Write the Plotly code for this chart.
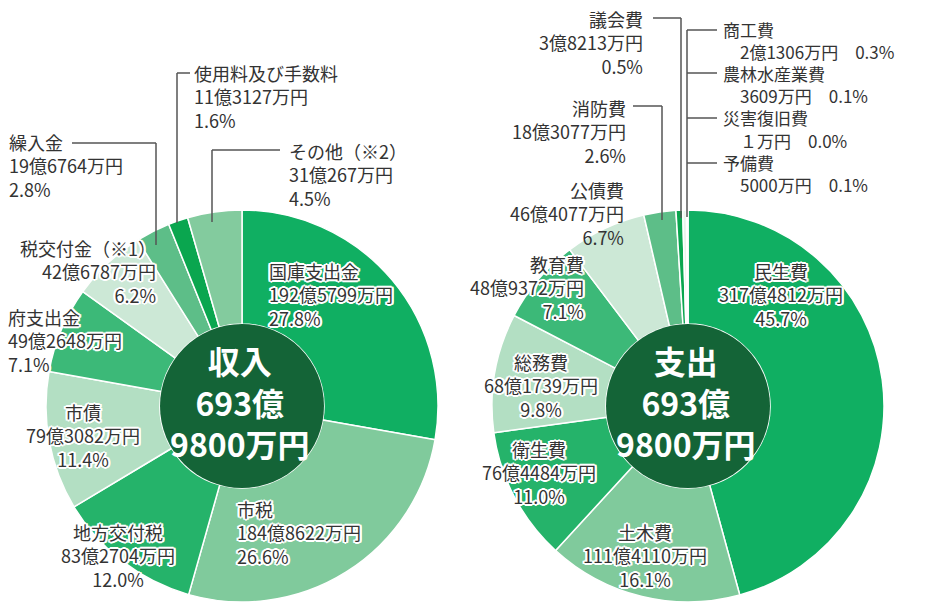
import plotly.graph_objects as go

W, H = 938, 602

# ---------------- data ----------------
rev_labels = ["国庫支出金", "市税", "地方交付税", "市債", "府支出金",
              "税交付金（※1）", "繰入金", "使用料及び手数料", "その他（※2）"]
rev_values = [1925799, 1848622, 832704, 793082, 492648, 426787, 196764, 113127, 310267]  # 万円
rev_amounts = ["192億5799万円", "184億8622万円", "83億2704万円", "79億3082万円", "49億2648万円",
               "42億6787万円", "19億6764万円", "11億3127万円", "31億267万円"]
rev_pcts = ["27.8%", "26.6%", "12.0%", "11.4%", "7.1%", "6.2%", "2.8%", "1.6%", "4.5%"]

exp_labels = ["民生費", "土木費", "衛生費", "総務費", "教育費", "公債費", "消防費",
              "議会費", "商工費", "農林水産業費", "災害復旧費", "予備費"]
exp_values = [3174812, 1114110, 764484, 681739, 489372, 464077, 183077,
              38213, 21306, 3609, 1, 5000]  # 万円
exp_amounts = ["317億4812万円", "111億4110万円", "76億4484万円", "68億1739万円", "48億9372万円",
               "46億4077万円", "18億3077万円", "3億8213万円", "2億1306万円", "3609万円",
               "１万円", "5000万円"]
exp_pcts = ["45.7%", "16.1%", "11.0%", "9.8%", "7.1%", "6.7%", "2.6%",
            "0.5%", "0.3%", "0.1%", "0.0%", "0.1%"]

center_titles = ["収入", "支出"]
center_total = ["693億", "9800万円"]

# ---------------- styles ----------------
rev_colors = ["#10af62", "#80ca9c", "#25b36a", "#b3dfc3", "#3cb978",
              "#cce8d6", "#5dbe88", "#0aa64f", "#83cb9e"]
exp_colors = ["#10af62", "#80ca9c", "#25b36a", "#b3dfc3", "#3cb978",
              "#cce8d6", "#5dbe88", "#0aa64f", "#e8f5ec", "#10af62", "#10af62", "#e8f5ec"]

# (x px, first-line centre y px, anchor, inside); None = listed in the right-hand column
rev_pos = [(268, 272, "left", True),
           (236, 510, "left", True),
           (118, 533, "center", True),
           (83, 413, "center", True),
           (7, 318, "left", True),
           (157, 249, "right", True),
           (8, 143, "left", False),
           (193, 74, "left", False),
           (288, 152, "left", False)]
exp_pos = [(781, 272, "center", True),
           (645, 533, "center", True),
           (539, 450, "center", True),
           (541, 363, "center", True),
           (585, 265, "right", True),
           (625, 191, "right", False),
           (627, 109, "right", False),
           (644, 20, "right", False),
           None, None, None, None]
COLUMN_X, COLUMN_Y = 722, 30  # right-hand column of tiny expenditure items
LS = 22.5  # reference line spacing px

leaders = [  # polylines in px
    [(190, 73), (177, 73), (177, 223)],
    [(72, 143), (156, 143), (156, 245)],
    [(280, 150), (212, 150), (212, 222)],
    [(633, 106), (662, 106), (662, 220)],
    [(653, 18), (681, 18), (681, 218)],
    [(687, 30), (687, 217)],
    [(687, 30), (717, 30)],
    [(687, 73), (717, 73)],
    [(687, 118), (717, 118)],
    [(687, 163), (717, 163)],
]

pie_centers = [(242, 406), (688, 406)]
R = 196
R_IN = 82
FONT = "Noto Sans CJK JP"
TXT = "#333333"
OUTLINE = ", ".join(f"{dx}px {dy}px 0 #fff" for dx, dy in
                    [(1, 1), (-1, -1), (1, -1), (-1, 1), (0, 2), (0, -2), (2, 0), (-2, 0),
                     (2, 1), (-2, 1), (2, -1), (-2, -1)])


def px(x):
    return x / W


def py(y):
    return 1 - y / H


fig = go.Figure()

for (cx, cy), labels, values, colors in [
        (pie_centers[0], rev_labels, rev_values, rev_colors),
        (pie_centers[1], exp_labels, exp_values, exp_colors)]:
    fig.add_trace(go.Pie(
        labels=labels, values=values, sort=False, direction="clockwise", rotation=0,
        hole=R_IN / R, textinfo="none", showlegend=False,
        marker=dict(colors=colors, line=dict(color="#ffffff", width=1.5)),
        domain=dict(x=[px(cx - R), px(cx + R)], y=[py(cy + R), py(cy - R)]),
    ))

shapes = []
for (cx, cy) in pie_centers:
    shapes.append(dict(type="circle", xref="paper", yref="paper",
                       x0=px(cx - R_IN), x1=px(cx + R_IN), y0=py(cy + R_IN), y1=py(cy - R_IN),
                       fillcolor="#146437", line=dict(width=0), layer="above"))
for pl in leaders:
    for (x0, y0), (x1, y1) in zip(pl[:-1], pl[1:]):
        shapes.append(dict(type="line", xref="paper", yref="paper",
                           x0=px(x0), y0=py(y0), x1=px(x1), y1=py(y1),
                           line=dict(color="#555555", width=1.5)))

annotations = []
column_lines = []
for labels, amounts, pcts, pos in [(rev_labels, rev_amounts, rev_pcts, rev_pos),
                                   (exp_labels, exp_amounts, exp_pcts, exp_pos)]:
    for name, amt, pct, p in zip(labels, amounts, pcts, pos):
        if p is None:
            column_lines += [name, f"　{amt}　{pct}"]
            continue
        x, y, anc, inside = p
        lines = [name, amt, pct]
        font = dict(family=FONT, size=18, color=TXT)
        if inside:
            font["shadow"] = OUTLINE
        ymid = y + (len(lines) - 1) * LS / 2
        annotations.append(dict(x=px(x), y=py(ymid), xref="paper", yref="paper",
                                xanchor=anc, yanchor="middle", align=anc, showarrow=False,
                                text="<br>".join(lines), font=font, borderpad=0))

col_size = 17
annotations.append(dict(x=px(COLUMN_X), y=py(COLUMN_Y + (len(column_lines) - 1) * 1.3 * col_size / 2),
                        xref="paper", yref="paper", xanchor="left", yanchor="middle", align="left",
                        showarrow=False, text="<br>".join(column_lines), borderpad=0,
                        font=dict(family=FONT, size=col_size, color=TXT)))

for (cx, cy), title in zip(pie_centers, center_titles):
    annotations.append(dict(x=px(cx - 2), y=py(cy - 5), xref="paper", yref="paper",
                            xanchor="center", yanchor="middle", align="center", showarrow=False,
                            text="<br>".join([title] + center_total), borderpad=0,
                            font=dict(family=FONT, size=32, color="#ffffff", weight="bold")))

fig.update_layout(width=W, height=H, margin=dict(l=0, r=0, t=0, b=0),
                  paper_bgcolor="#ffffff", plot_bgcolor="#ffffff",
                  shapes=shapes, annotations=annotations, showlegend=False)

fig.write_html("out.html", config={"displayModeBar": False},
               post_script="document.body.style.margin='0';document.body.style.overflow='hidden';")
